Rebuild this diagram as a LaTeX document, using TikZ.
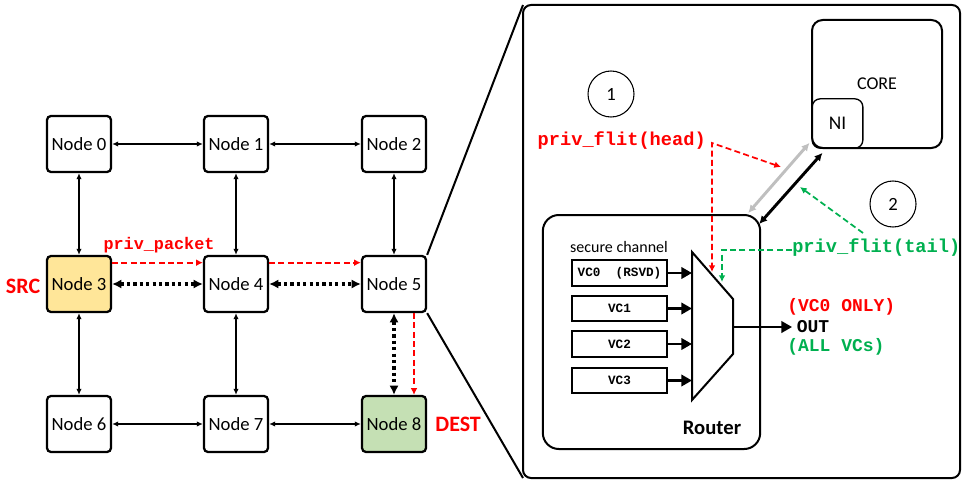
\documentclass[tikz,border=0pt]{standalone}
\usepackage{fontspec}
\setmainfont{Carlito}
\newfontfamily\codefont{Liberation Mono}
\usetikzlibrary{arrows.meta}
\definecolor{flitred}{HTML}{FF0000}
\definecolor{flitgreen}{HTML}{00B050}
\definecolor{srcfill}{HTML}{FFE699}
\definecolor{destfill}{HTML}{C5E0B4}
\definecolor{linkgray}{HTML}{BFBFBF}
\tikzset{
  meshnode/.style={draw, line width=1.7pt, rounded corners=3pt, minimum width=48pt,
    minimum height=42pt, inner sep=0pt, font=\fontsize{14}{16}\selectfont},
  link/.style={line width=1.1pt, {Latex[length=4.5pt,width=4pt]}-{Latex[length=4.5pt,width=4pt]}},
  dotlink/.style={line width=2.4pt, dash pattern=on 2.4pt off 2.4pt,
    {Latex[length=7pt,width=7pt]}-{Latex[length=7pt,width=7pt]}},
  redpath/.style={flitred, line width=1.3pt, dash pattern=on 4.5pt off 2.5pt, -{Latex[length=5pt,width=5pt]}},
  greenpath/.style={flitgreen, line width=1.3pt, dash pattern=on 4.5pt off 2.5pt, -{Latex[length=5pt,width=5pt]}},
  vcbox/.style={draw, line width=1.5pt, minimum width=71pt, minimum height=19pt, inner sep=0pt,
    font=\codefont\bfseries\fontsize{9.5}{11}\selectfont},
  vcarrow/.style={line width=2.2pt, -{Triangle[length=8pt,width=8.5pt]}},
  nilink/.style={line width=2.2pt, {Latex[length=6pt,width=6pt]}-{Latex[length=6pt,width=6pt]}},
  codelabel/.style={inner sep=0pt, font=\codefont\bfseries\fontsize{14}{16}\selectfont},
  stepcircle/.style={draw, circle, line width=0.8pt, minimum size=34.5pt, inner sep=0pt,
    font=\fontsize{14}{16}\selectfont}
}
\begin{document}
\begin{tikzpicture}[x=0.75pt,y=-0.75pt]
    \useasboundingbox (0,0) rectangle (962,481);
    % mesh
    \foreach \i/\x/\y/\c in {0/79/144/white, 1/236/144/white, 2/394/144/white,
        3/79/284/srcfill, 4/236/284/white, 5/394/284/white,
        6/79/424/white, 7/236/424/white, 8/394/424/destfill}{
        \node[meshnode, fill=\c] (n\i) at (\x,\y) {Node \i};
    }
    \foreach \a/\b in {0/1,1/2,6/7,7/8,0/3,1/4,2/5,3/6,4/7}{
        \draw[link] (n\a) -- (n\b);
    }
    \draw[dotlink] (n3) -- (n4);
    \draw[dotlink] (n4) -- (n5);
    \draw[dotlink] (n5) -- (n8);
    \draw[redpath] ([yshift=16pt]n3.east) -- ([yshift=16pt]n4.west);
    \draw[redpath] ([yshift=16pt]n4.east) -- ([yshift=16pt]n5.west);
    \draw[redpath] ([xshift=15pt]n5.south) -- ([xshift=15pt]n8.north);
    \node[text=flitred, inner sep=0pt, font=\codefont\bfseries\fontsize{12.6}{14}\selectfont] (pktlabel) at (159,245) {priv\_packet};
    \node[text=flitred, anchor=east, inner sep=0pt, font=\bfseries\fontsize{16.5}{18}\selectfont] (srclabel) at ([xshift=-4pt,yshift=-2pt]n3.west) {SRC};
    \node[text=flitred, anchor=west, inner sep=0pt, font=\bfseries\fontsize{16.5}{18}\selectfont] (destlabel) at ([xshift=6pt]n8.east) {DEST};

    % zoomed router
    \draw[line width=1.5pt, rounded corners=6pt] (523,5) rectangle (960,478);
    \coordinate (zoomtl) at (523,5);
    \coordinate (zoombl) at (523,478);
    \draw[line width=1.5pt] (n5.north east) -- (zoomtl);
    \draw[line width=1.5pt] (n5.south east) -- (zoombl);

    \node[draw, line width=1.5pt, rounded corners=8pt, minimum width=97.5pt, minimum height=96pt,
        font=\fontsize{13.5}{15}\selectfont] (core) at (877,84) {CORE};
    \node[draw, line width=1pt, rounded corners=6pt, minimum width=38pt, minimum height=37pt,
        font=\fontsize{14.5}{16}\selectfont] (ni) at (837.5,123.5) {NI};
    \node[stepcircle] (circ1) at (611,94) {1};
    \node[stepcircle] (circ2) at (893,204) {2};

    \node[draw, line width=1.5pt, rounded corners=12pt, minimum width=163pt, minimum height=175.5pt] (router) at (651.5,332) {};
    \node[font=\bfseries\fontsize{15.5}{17}\selectfont] (routerlabel) at (712,428) {Router};
    \node[font=\fontsize{12}{14}\selectfont] (seclabel) at (619,247) {secure channel};
    \foreach \i/\y/\t in {0/273/VC0\ \ (RSVD), 1/308.5/VC1, 2/344/VC2, 3/380.5/VC3}{
        \node[vcbox] (vc\i) at (619.5,\y) {\t};
    }
    \coordinate (mux-nw) at (692,252);
    \coordinate (mux-ne) at (733,299);
    \coordinate (mux-se) at (733,354);
    \coordinate (mux-sw) at (692,400);
    \draw[line width=1.5pt] (mux-nw) -- (mux-ne) -- (mux-se) -- (mux-sw) -- cycle;
    \foreach \i in {0,...,3}{
        \draw[vcarrow] (vc\i.east) -- (vc\i.east -| mux-nw);
    }
    \coordinate (mux-out) at (733,327);
    \node[font=\codefont\bfseries\fontsize{13.5}{15}\selectfont] (outlabel) at (813,327) {OUT};
    \draw[vcarrow] (mux-out) -- (outlabel.west);
    \node[anchor=west, inner sep=0pt, text=flitred, font=\codefont\bfseries\fontsize{13.5}{15}\selectfont] (onlylabel) at (787,307) {(VC0 ONLY)};
    \node[anchor=west, inner sep=0pt, text=flitgreen, font=\codefont\bfseries\fontsize{13.5}{15}\selectfont] (allvclabel) at (787,347) {(ALL VCs)};

    % NI <-> router links
    \draw[nilink, linkgray] ([shift={(-1.5pt,4.5pt)}]ni.south west) -- ([shift={(-9.75pt,0.75pt)}]router.north east);
    \draw[nilink] ([shift={(8.25pt,-3pt)}]ni.south west) -- ([shift={(-1.5pt,-7.5pt)}]router.north east);

    % flits
    \node[codelabel, text=flitred, anchor=east] (headlabel) at (706,141) {priv\_flit(head)};
    \coordinate (head-corner) at (712,143);
    \coordinate (head-tip) at (781,167);
    \coordinate (mux-red) at (712,272);
    \draw[redpath, {Latex[length=5pt,width=5pt]}-{Latex[length=5pt,width=5pt]}] (head-tip) -- (head-corner) -- (mux-red);
    \node[codelabel, text=flitgreen, anchor=west] (taillabel) at (792,248) {priv\_flit(tail)};
    \coordinate (mux-green) at (722,282);
    \draw[greenpath] ([yshift=-1.5pt]taillabel.west) -| (mux-green);
    \coordinate (tail-start) at (863,233);
    \coordinate (tail-tip) at (800,187);
    \draw[greenpath] (tail-start) -- (tail-tip);
\end{tikzpicture}
\end{document}
